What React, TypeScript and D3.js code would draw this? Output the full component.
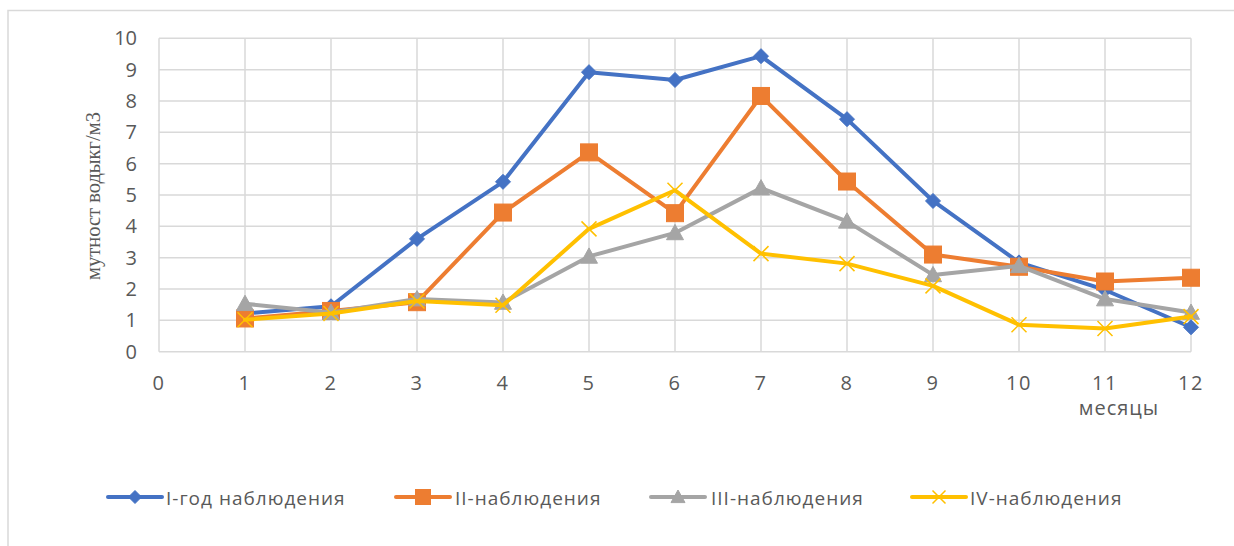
import React from "react";
import * as d3 from "d3";

const months = [1, 2, 3, 4, 5, 6, 7, 8, 9, 10, 11, 12];
const seriesI = [1.22, 1.45, 3.6, 5.42, 8.92, 8.67, 9.43, 7.42, 4.81, 2.85, 1.97, 0.78];
const seriesII = [1.06, 1.3, 1.58, 4.44, 6.36, 4.42, 8.16, 5.43, 3.1, 2.71, 2.24, 2.36];
const seriesIII = [1.53, 1.25, 1.68, 1.57, 3.04, 3.79, 5.22, 4.16, 2.45, 2.74, 1.68, 1.25];
const seriesIV = [1.02, 1.22, 1.62, 1.48, 3.92, 5.15, 3.13, 2.81, 2.1, 0.86, 0.74, 1.12];
const seriesNames = ["I-год наблюдения", "II-наблюдения", "III-наблюдения", "IV-наблюдения"];
const xTicks = [0, 1, 2, 3, 4, 5, 6, 7, 8, 9, 10, 11, 12];
const yTicks = [0, 1, 2, 3, 4, 5, 6, 7, 8, 9, 10];
const yLabel = "мутност водыкг/м3";
const xLabel = "месяцы";

const colors = ["#4472C4", "#ED7D31", "#A5A5A5", "#FFC000"];
const markers = ["diamond", "square", "triangle", "x"];
const allSeries = [seriesI, seriesII, seriesIII, seriesIV];

const W = 1234;
const H = 546;
const plot = { left: 159, right: 1191, top: 38.3, bottom: 351.7 };
const sansFont = "'Open Sans', 'DejaVu Sans', sans-serif";

function Marker({ type, x, y, color, size }: { type: string; x: number; y: number; color: string; size: number }) {
  const s = size / 2;
  if (type === "diamond") {
    return <path d={`M${x},${y - s}L${x + s},${y}L${x},${y + s}L${x - s},${y}Z`} fill={color} stroke={color} strokeWidth={1} />;
  }
  if (type === "square") {
    return <rect x={x - s} y={y - s} width={size} height={size} fill={color} stroke={color} strokeWidth={1} />;
  }
  if (type === "triangle") {
    return <path d={`M${x},${y - s}L${x + s},${y + s * 0.8}L${x - s},${y + s * 0.8}Z`} fill={color} stroke={color} strokeWidth={1} />;
  }
  return (
    <path d={`M${x - s},${y - s}L${x + s},${y + s}M${x - s},${y + s}L${x + s},${y - s}`} stroke={color} strokeWidth={1.5} fill="none" />
  );
}

export default function App() {
  const x = d3.scaleLinear().domain([0, 12]).range([plot.left, plot.right]);
  const y = d3.scaleLinear().domain([0, 10]).range([plot.bottom, plot.top]);
  const line = d3
    .line<number>()
    .x((_, i) => x(months[i]))
    .y((d) => y(d));

  const markerSizes = [15, 17, 17, 15];
  const legendMarkerSizes = [13, 15, 14, 13];
  const legendItems = [
    { lx: 108, tx: 166 },
    { lx: 396, tx: 455 },
    { lx: 651, tx: 711 },
    { lx: 912, tx: 970 },
  ];
  const legendY = 497;

  return (
    <svg width={W} height={H} style={{ position: "absolute", left: 0, top: 0, background: "#fff" }}>
      <rect x={8} y={10.5} width={W} height={H} fill="#fff" stroke="#d9d9d9" strokeWidth={1.5} />
      {/* grid */}
      {yTicks.map((t) => (
        <line key={"gy" + t} x1={plot.left} x2={plot.right} y1={y(t)} y2={y(t)} stroke="#d9d9d9" strokeWidth={1.5} />
      ))}
      {xTicks.map((t) => (
        <line key={"gx" + t} x1={x(t)} x2={x(t)} y1={plot.top} y2={plot.bottom} stroke="#d9d9d9" strokeWidth={1.5} />
      ))}
      {/* y tick labels */}
      {yTicks.map((t) => (
        <text key={"ty" + t} x={137} y={y(t)} dy="0.35em" textAnchor="end" fontFamily={sansFont} fontSize={20} fill="#595959">
          {t}
        </text>
      ))}
      {/* x tick labels */}
      {xTicks.map((t) => (
        <text key={"tx" + t} x={x(t)} y={390} textAnchor="middle" fontFamily={sansFont} fontSize={20} fill="#595959" letterSpacing={1.5}>
          {t}
        </text>
      ))}
      <text x={1119} y={415} textAnchor="middle" fontFamily={sansFont} fontSize={20} fill="#595959" letterSpacing={1}>
        {xLabel}
      </text>
      <text
        transform={`translate(100,196) rotate(-90)`}
        textAnchor="middle"
        fontFamily="'Liberation Serif', 'Times New Roman', serif"
        fontSize={20.5}
        fill="#595959"
      >
        {yLabel}
      </text>
      {/* series */}
      {allSeries.map((s, si) => (
        <g key={"s" + si}>
          <path d={line(s) || ""} fill="none" stroke={colors[si]} strokeWidth={4} strokeLinejoin="round" strokeLinecap="round" />
          {s.map((v, i) => (
            <Marker key={i} type={markers[si]} x={x(months[i])} y={y(v)} color={colors[si]} size={markerSizes[si]} />
          ))}
        </g>
      ))}
      {/* legend */}
      {legendItems.map((it, i) => (
        <g key={"lg" + i}>
          <line x1={it.lx} x2={it.lx + 54} y1={legendY} y2={legendY} stroke={colors[i]} strokeWidth={4} strokeLinecap="round" />
          <Marker type={markers[i]} x={it.lx + 27} y={legendY} color={colors[i]} size={legendMarkerSizes[i]} />
          <text x={it.tx} y={legendY + 8} fontFamily={sansFont} fontSize={19} fill="#595959" letterSpacing={1}>
            {seriesNames[i]}
          </text>
        </g>
      ))}
    </svg>
  );
}
